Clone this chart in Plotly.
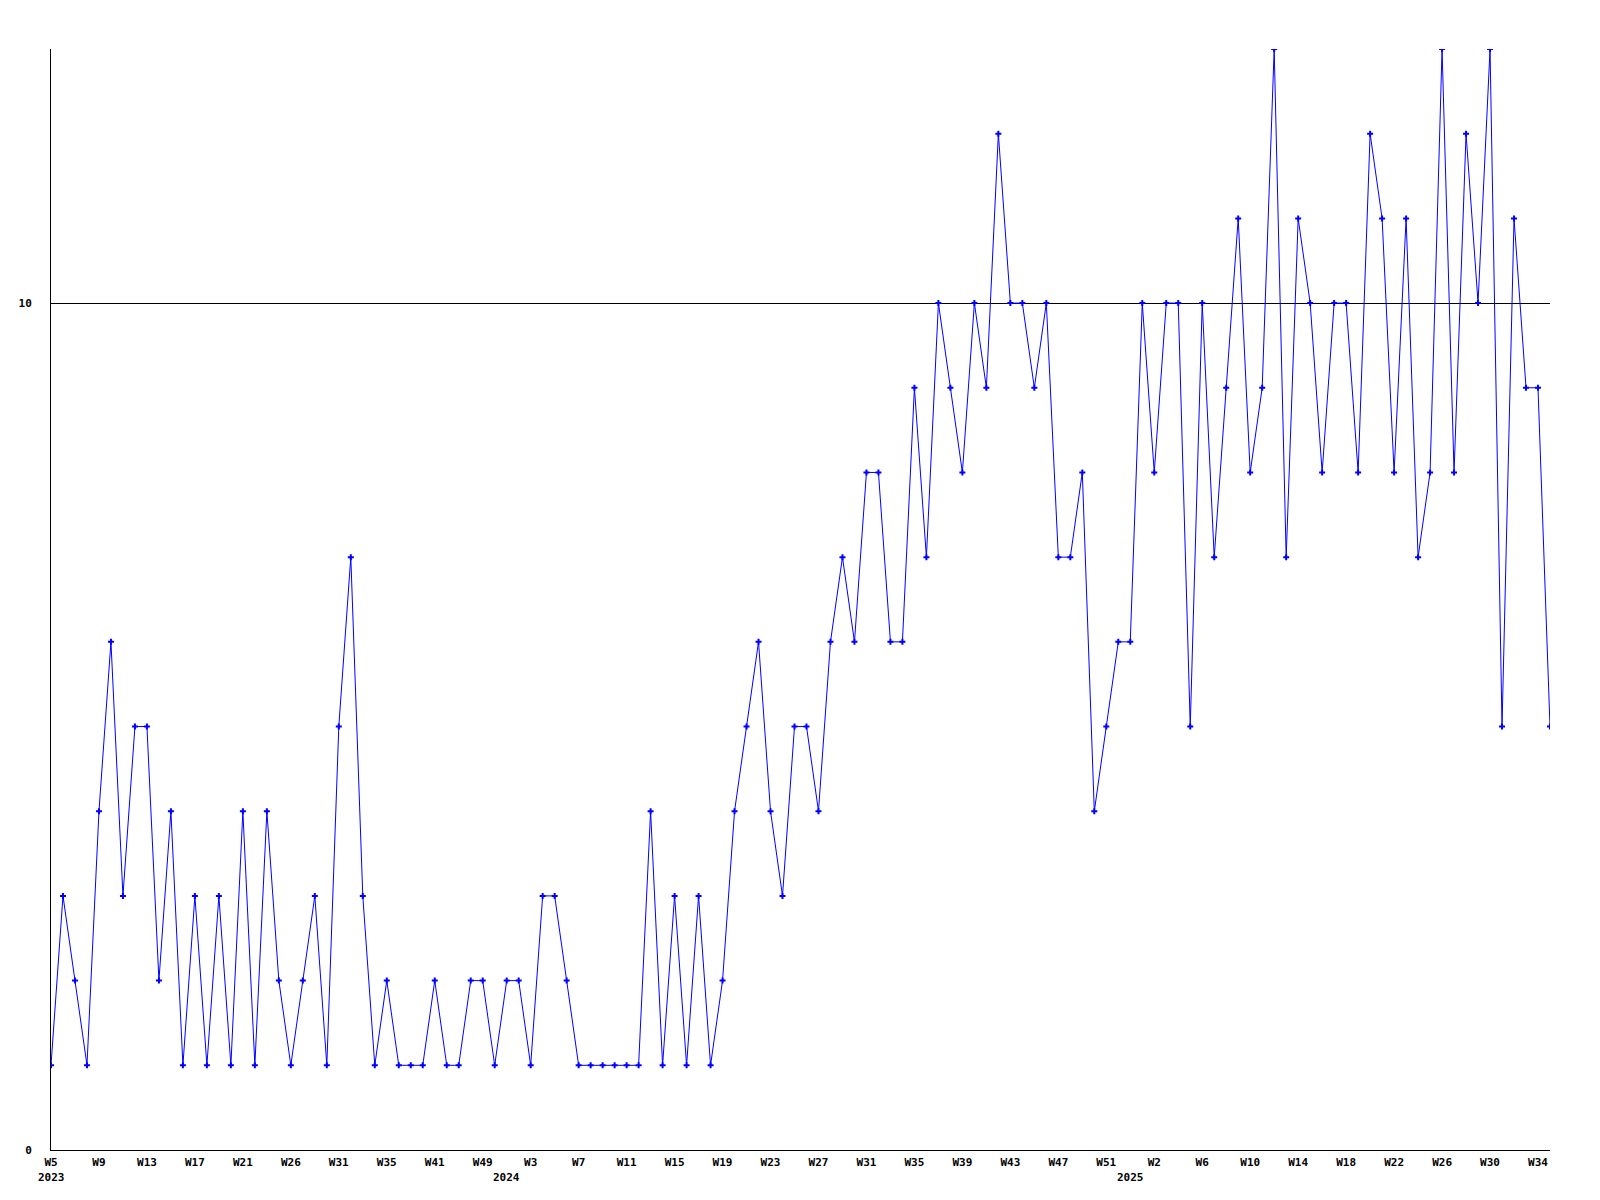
import plotly.graph_objects as go

# Weekly values (one point per sampled week, 2023 W5 .. 2025 W35)
values = [
    1, 3, 2, 1, 4, 6, 3, 5, 5, 2,
    4, 1, 3, 1, 3, 1, 4, 1, 4, 2,
    1, 2, 3, 1, 5, 7, 3, 1, 2, 1,
    1, 1, 2, 1, 1, 2, 2, 1, 2, 2,
    1, 3, 3, 2, 1, 1, 1, 1, 1, 1,
    4, 1, 3, 1, 3, 1, 2, 4, 5, 6,
    4, 3, 5, 5, 4, 6, 7, 6, 8, 8,
    6, 6, 9, 7, 10, 9, 8, 10, 9, 12,
    10, 10, 9, 10, 7, 7, 8, 4, 5, 6,
    6, 10, 8, 10, 10, 5, 10, 7, 9, 11,
    8, 9, 13, 7, 11, 10, 8, 10, 10, 8,
    12, 11, 8, 11, 7, 8, 13, 8, 12, 10,
    13, 5, 11, 9, 9, 5,
]

# Tick labels shown every 4th point
week_labels = [
    "W5", "W9", "W13", "W17", "W21", "W26", "W31", "W35", "W41", "W49",
    "W3", "W7", "W11", "W15", "W19", "W23", "W27", "W31", "W35", "W39",
    "W43", "W47", "W51", "W2", "W6", "W10", "W14", "W18", "W22", "W26",
    "W30", "W34",
]
# Year labels and the point index where each year starts
year_labels = ["2023", "2024", "2025"]
year_index = [0, 38, 90]

y_ticks = [0, 10]

x = list(range(len(values)))
tickvals = x[::4][:len(week_labels)]

FONT = "DejaVu Sans Mono"

fig = go.Figure()
fig.add_trace(go.Scatter(
    x=x, y=values, mode="lines+markers",
    line=dict(color="#0000ff", width=1),
    marker=dict(symbol="cross", size=5, color="#0000ff"),
    showlegend=False,
))

for lbl, idx in zip(year_labels, year_index):
    fig.add_annotation(
        x=idx, y=0, xref="x", yref="paper",
        text=lbl, showarrow=False,
        xanchor="center", yanchor="top", yshift=-19,
        font=dict(family=FONT, size=11, color="black", weight="bold"),
    )

fig.update_layout(
    width=1600, height=1200,
    margin=dict(l=43, r=58, t=41, b=58),
    paper_bgcolor="white", plot_bgcolor="white",
    showlegend=False,
)
fig.update_xaxes(
    range=[0, len(values) - 1],
    tickmode="array", tickvals=tickvals, ticktext=week_labels,
    showgrid=False, zeroline=False,
    showline=True, linecolor="black", linewidth=1,
    ticks="", ticklen=0, ticklabelstandoff=2,
    tickfont=dict(family=FONT, size=11, color="black", weight="bold"),
)
fig.update_yaxes(
    range=[0, 13],
    tickmode="array", tickvals=y_ticks, ticktext=[str(v) for v in y_ticks],
    showgrid=True, gridcolor="black", gridwidth=1,
    zeroline=False,
    showline=True, linecolor="black", linewidth=1,
    ticks="", ticklabelstandoff=16,
    tickfont=dict(family=FONT, size=11, color="black", weight="bold"),
)

fig.write_html("out.html")
